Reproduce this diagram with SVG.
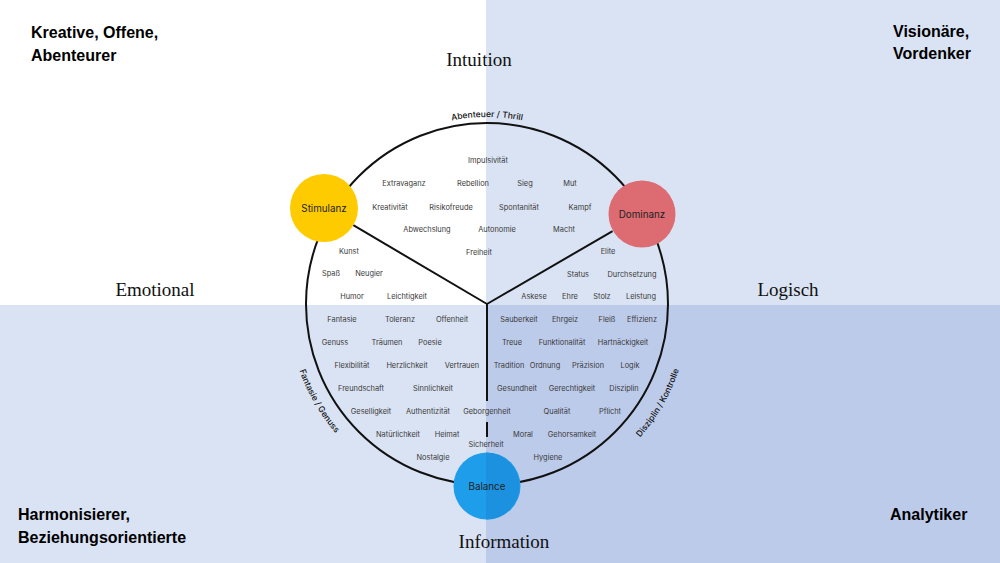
<svg xmlns="http://www.w3.org/2000/svg" width="1000" height="563" viewBox="0 0 1000 563">
<style>
.corner{font-family:"Liberation Sans",Arial,sans-serif;font-weight:bold;font-size:16px;fill:#000}
.axis{font-family:"Liberation Serif","DejaVu Serif",serif;font-size:19px;fill:#111}
.w{font-family:Inter,"Noto Sans",sans-serif;font-size:7.4px;fill:#3a3a3a;text-anchor:middle}
.node{font-family:Inter,"Noto Sans",sans-serif;font-size:9.8px;fill:#222;text-anchor:middle}
.arc{font-family:Inter,"Noto Sans",sans-serif;font-size:8.5px;font-weight:500;fill:#111}
.ln{stroke:#111;stroke-width:2;fill:none}
</style>
<defs>
<path id="pTop" d="M366.8,160.8 A187,187 0 0,1 607.2,160.8"/>
<path id="pLeft" d="M291,269.4 A199,199 0 0,0 418.9,491"/>
<path id="pRight" d="M588.5,479.8 A203,203 0 0,0 690,304"/>
</defs>
<g id="background">
<rect x="0" y="0" width="486" height="305" fill="#ffffff"/>
<rect x="486" y="0" width="514" height="305" fill="#dae3f3"/>
<rect x="0" y="305" width="486" height="258" fill="#dae3f3"/>
<rect x="486" y="305" width="514" height="258" fill="#bdcbea"/>
</g>
<g id="corner-labels">
<text class="corner" x="31" y="38">Kreative, Offene,</text>
<text class="corner" x="31" y="61">Abenteurer</text>
<text class="corner" x="893" y="37">Visionäre,</text>
<text class="corner" x="893" y="59">Vordenker</text>
<text class="corner" x="18" y="520">Harmonisierer,</text>
<text class="corner" x="18" y="543">Beziehungsorientierte</text>
<text class="corner" x="890" y="520">Analytiker</text>
</g>
<g id="axis-labels">
<text class="axis" x="479" y="66" text-anchor="middle">Intuition</text>
<text class="axis" x="155" y="296" text-anchor="middle">Emotional</text>
<text class="axis" x="788" y="296" text-anchor="middle">Logisch</text>
<text class="axis" x="504" y="548" text-anchor="middle">Information</text>
</g>
<g id="connectors">
<circle class="ln" cx="487" cy="304" r="181" stroke-width="1.8"/>
<line class="ln" x1="487" y1="304" x2="353.3" y2="225.2"/>
<line class="ln" x1="487" y1="304" x2="612.6" y2="231.1"/>
<path class="ln" d="M487,304 V401 M487,422 V437"/>
</g>
<g id="arc-labels">
<text class="arc" text-anchor="middle"><textPath href="#pTop" startOffset="50%">Abenteuer / Thrill</textPath></text>
<text class="arc" text-anchor="middle"><textPath href="#pLeft" startOffset="50%">Fantasie / Genuss</textPath></text>
<text class="arc" text-anchor="middle"><textPath href="#pRight" startOffset="50%">Disziplin / Kontrolle</textPath></text>
</g>
<g id="words">
<text class="w" x="488" y="163">Impulsivität</text>
<text class="w" x="404" y="186">Extravaganz</text>
<text class="w" x="473" y="186">Rebellion</text>
<text class="w" x="525" y="186">Sieg</text>
<text class="w" x="570" y="186">Mut</text>
<text class="w" x="390" y="210">Kreativität</text>
<text class="w" x="451" y="210">Risikofreude</text>
<text class="w" x="519" y="210">Spontanität</text>
<text class="w" x="580" y="210">Kampf</text>
<text class="w" x="427" y="232">Abwechslung</text>
<text class="w" x="497" y="232">Autonomie</text>
<text class="w" x="564" y="232">Macht</text>
<text class="w" x="349" y="254">Kunst</text>
<text class="w" x="479" y="255">Freiheit</text>
<text class="w" x="608" y="254">Elite</text>
<text class="w" x="331" y="276">Spaß</text>
<text class="w" x="369" y="276">Neugier</text>
<text class="w" x="578" y="277">Status</text>
<text class="w" x="632" y="277">Durchsetzung</text>
<text class="w" x="352" y="299">Humor</text>
<text class="w" x="407" y="299">Leichtigkeit</text>
<text class="w" x="534" y="299">Askese</text>
<text class="w" x="570" y="299">Ehre</text>
<text class="w" x="602" y="299">Stolz</text>
<text class="w" x="641" y="299">Leistung</text>
<text class="w" x="342" y="322">Fantasie</text>
<text class="w" x="400" y="322">Toleranz</text>
<text class="w" x="452" y="322">Offenheit</text>
<text class="w" x="519" y="322">Sauberkeit</text>
<text class="w" x="565" y="322">Ehrgeiz</text>
<text class="w" x="607" y="322">Fleiß</text>
<text class="w" x="642" y="322">Effizienz</text>
<text class="w" x="335" y="345">Genuss</text>
<text class="w" x="387" y="345">Träumen</text>
<text class="w" x="430" y="345">Poesie</text>
<text class="w" x="512" y="345">Treue</text>
<text class="w" x="562" y="345">Funktionalität</text>
<text class="w" x="623" y="345">Hartnäckigkeit</text>
<text class="w" x="352" y="368">Flexibilität</text>
<text class="w" x="407" y="368">Herzlichkeit</text>
<text class="w" x="462" y="368">Vertrauen</text>
<text class="w" x="509" y="368">Tradition</text>
<text class="w" x="545" y="368">Ordnung</text>
<text class="w" x="588" y="368">Präzision</text>
<text class="w" x="630" y="368">Logik</text>
<text class="w" x="361" y="391">Freundschaft</text>
<text class="w" x="433" y="391">Sinnlichkeit</text>
<text class="w" x="517" y="391">Gesundheit</text>
<text class="w" x="572" y="391">Gerechtigkeit</text>
<text class="w" x="624" y="391">Disziplin</text>
<text class="w" x="371" y="414">Geselligkeit</text>
<text class="w" x="428" y="414">Authentizität</text>
<text class="w" x="487" y="414">Geborgenheit</text>
<text class="w" x="557" y="414">Qualität</text>
<text class="w" x="610" y="414">Pflicht</text>
<text class="w" x="398" y="437">Natürlichkeit</text>
<text class="w" x="447" y="437">Heimat</text>
<text class="w" x="523" y="437">Moral</text>
<text class="w" x="572" y="437">Gehorsamkeit</text>
<text class="w" x="486" y="447">Sicherheit</text>
<text class="w" x="433" y="460">Nostalgie</text>
<text class="w" x="548" y="460">Hygiene</text>
</g>
<g id="node-stimulanz">
<circle cx="324" cy="208" r="34" fill="#fecb00"/>
<text class="node" x="324" y="211.5">Stimulanz</text>
</g>
<g id="node-dominanz">
<circle cx="642" cy="214" r="33.5" fill="#dc6b72"/>
<text class="node" x="642" y="217.5">Dominanz</text>
</g>
<g id="node-balance">
<circle cx="487" cy="486" r="33.5" fill="#1e9deb"/>
<path d="M486,452.5 A33.5,33.5 0 0,1 486,519.5 Z" fill="#1b91e0"/>
<text class="node" x="487" y="489.5">Balance</text>
</g>
</svg>
